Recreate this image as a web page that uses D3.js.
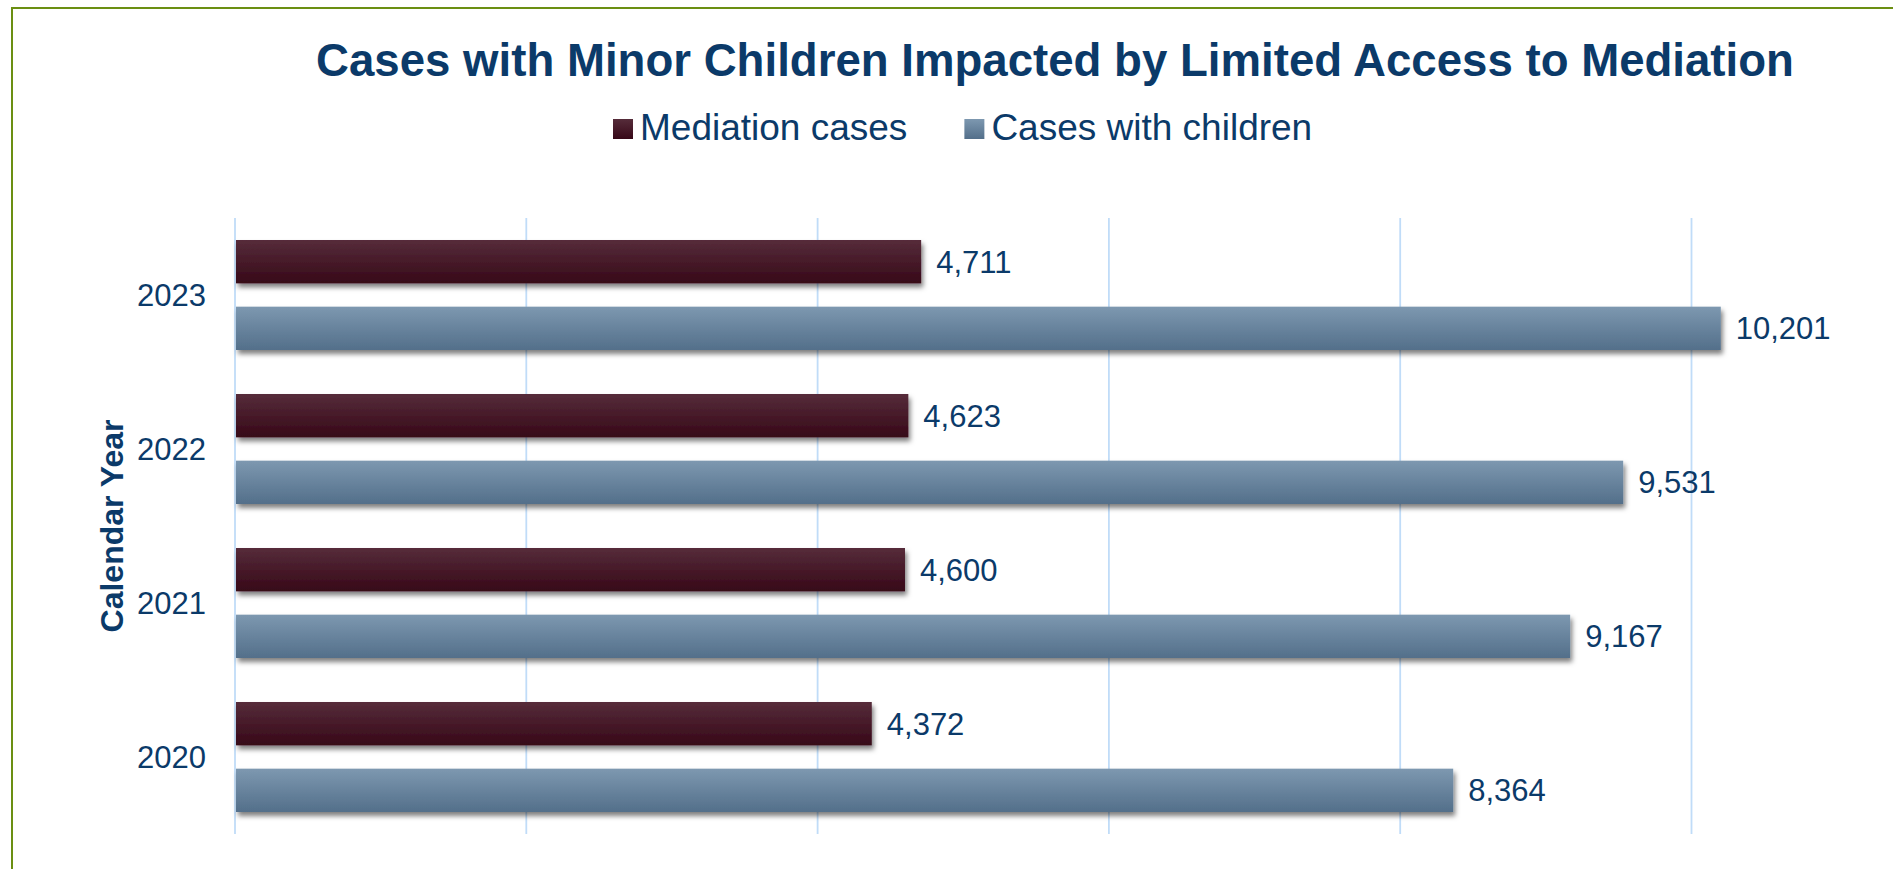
<!DOCTYPE html>
<html>
<head>
<meta charset="utf-8">
<script src="https://cdn.jsdelivr.net/npm/d3@7"></script>
<style>
  html, body { margin: 0; padding: 0; background: #ffffff; }
  svg { display: block; font-family: "Liberation Sans", Arial, sans-serif; }
</style>
</head>
<body>
<svg id="chart" width="1893" height="869"></svg>
<script>
// Chart data
const years = ["2023", "2022", "2021", "2020"];
const seriesNames = ["Mediation cases", "Cases with children"];
const mediationCases = [4711, 4623, 4600, 4372];
const casesWithChildren = [10201, 9531, 9167, 8364];
const gridTicks = [0, 2000, 4000, 6000, 8000, 10000];

const titleText = "Cases with Minor Children Impacted by Limited Access to Mediation";
const yAxisTitle = "Calendar Year";

const textColor = "#0b3a69";
const gridColor = "#c0dcf8";

const svg = d3.select("#chart");
const W = 1893, H = 869;

// Gradients and shadow
const defs = svg.append("defs");
const gradSpecs = [
  { id: "gradMed", top: "#562c3a", bottom: "#370818" },
  { id: "gradKid", top: "#7d98b0", bottom: "#536f8a" }
];
gradSpecs.forEach(g => {
  const lg = defs.append("linearGradient")
    .attr("id", g.id).attr("x1", 0).attr("y1", 0).attr("x2", 0).attr("y2", 1);
  lg.append("stop").attr("offset", "0%").attr("stop-color", g.top);
  lg.append("stop").attr("offset", "100%").attr("stop-color", g.bottom);
});
const shadow = defs.append("filter").attr("id", "barShadow")
  .attr("x", "-5%").attr("y", "-20%").attr("width", "115%").attr("height", "160%");
shadow.append("feDropShadow")
  .attr("dx", 2).attr("dy", 4).attr("stdDeviation", 2.5)
  .attr("flood-color", "#000").attr("flood-opacity", 0.5);

// Frame
svg.append("rect")
  .attr("x", 12).attr("y", 8)
  .attr("width", W + 20).attr("height", H + 20)
  .attr("fill", "#ffffff")
  .attr("stroke", "#6b8f12").attr("stroke-width", 2);

// Scales
const x = d3.scaleLinear().domain([0, 10000]).range([235, 1691.5]);
const y = d3.scaleBand().domain(years).range([218, 834]).padding(0);
const ySub = d3.scaleBand().domain(seriesNames).range([0, y.bandwidth()])
  .paddingInner(0.35).paddingOuter(0.33);

// Gridlines
const grid = svg.append("g").attr("class", "grid");
grid.selectAll("line").data(gridTicks).join("line")
  .attr("x1", d => x(d)).attr("x2", d => x(d))
  .attr("y1", 218).attr("y2", 834)
  .attr("stroke", gridColor).attr("stroke-width", 1.8);

// Bars
const rows = years.map((yr, i) => ({
  year: yr,
  values: [
    { series: seriesNames[0], value: mediationCases[i], fill: "url(#gradMed)" },
    { series: seriesNames[1], value: casesWithChildren[i], fill: "url(#gradKid)" }
  ]
}));

const fmt = d3.format(",");
const groups = svg.append("g").selectAll("g").data(rows).join("g")
  .attr("transform", d => `translate(0,${y(d.year)})`);

groups.selectAll("rect").data(d => d.values).join("rect")
  .attr("x", x(0) + 1)
  .attr("y", d => ySub(d.series))
  .attr("width", d => x(d.value) - x(0) - 1)
  .attr("height", ySub.bandwidth())
  .attr("fill", d => d.fill)
  .attr("filter", "url(#barShadow)");

groups.selectAll("text.value").data(d => d.values).join("text")
  .attr("class", "value")
  .attr("x", d => x(d.value) + 15)
  .attr("y", d => ySub(d.series) + ySub.bandwidth() / 2)
  .attr("dy", "0.36em")
  .attr("font-size", 31)
  .attr("fill", textColor)
  .text(d => fmt(d.value));

// Category labels
svg.append("g").selectAll("text").data(years).join("text")
  .attr("x", 206)
  .attr("y", d => y(d) + y.bandwidth() / 2)
  .attr("dy", "0.36em")
  .attr("text-anchor", "end")
  .attr("font-size", 31)
  .attr("fill", textColor)
  .text(d => d);

// Axis title
svg.append("text")
  .attr("transform", "translate(123,526) rotate(-90)")
  .attr("text-anchor", "middle")
  .attr("font-size", 32)
  .attr("font-weight", "bold")
  .attr("fill", textColor)
  .text(yAxisTitle);

// Title
svg.append("text")
  .attr("x", 1055).attr("y", 76)
  .attr("text-anchor", "middle")
  .attr("font-size", 45.6)
  .attr("font-weight", "bold")
  .attr("fill", textColor)
  .text(titleText);

// Legend
const legend = svg.append("g");
const legendFills = ["url(#gradMed)", "url(#gradKid)"];
let lx = 613;
seriesNames.forEach((name, i) => {
  const item = legend.append("g").attr("transform", `translate(${lx},0)`);
  item.append("rect")
    .attr("x", 0).attr("y", 119).attr("width", 20).attr("height", 20)
    .attr("fill", legendFills[i]);
  const t = item.append("text")
    .attr("x", 27).attr("y", 140)
    .attr("font-size", 37)
    .attr("fill", textColor)
    .text(name);
  lx += 27 + t.node().getComputedTextLength() + 57;
});
</script>
</body>
</html>
